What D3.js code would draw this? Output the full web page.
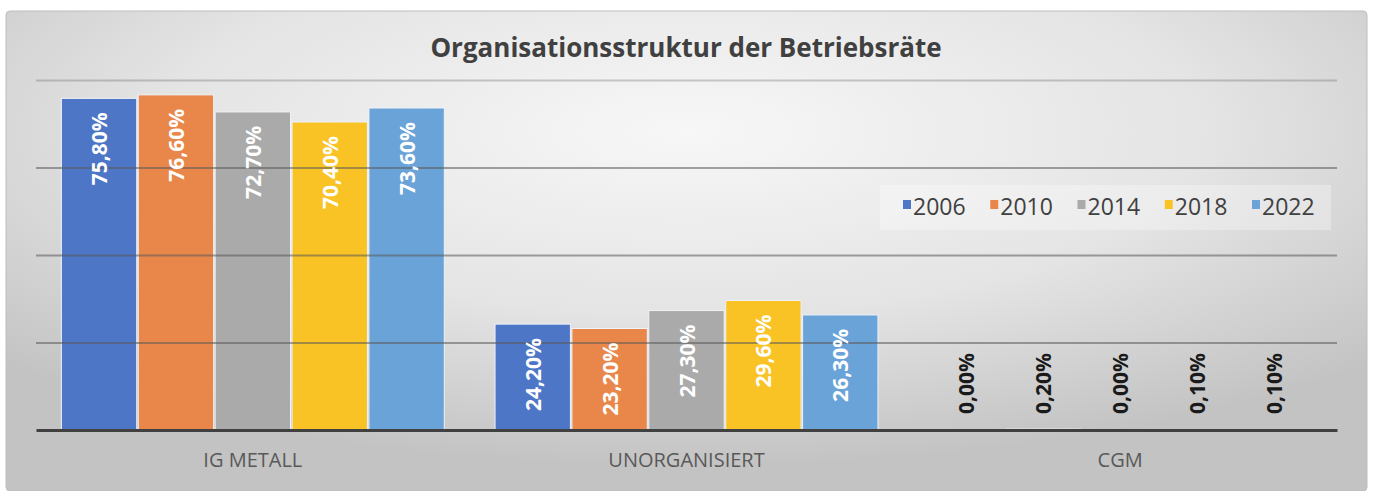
<!DOCTYPE html>
<html>
<head>
<meta charset="utf-8">
<script src="https://cdn.jsdelivr.net/npm/d3@7"></script>
<style>
  body { margin: 0; background: #fff; }
  svg { display: block; font-family: "Open Sans", "Noto Sans", sans-serif; }
</style>
</head>
<body>
<div id="chart-area"></div>
<script>
/*
*    Organisationsstruktur der Betriebsräte - grouped bar chart
*/

var categories = ["IG METALL", "UNORGANISIERT", "CGM"];
var years = ["2006", "2010", "2014", "2018", "2022"];
var values2006 = [75.8, 24.2, 0.0];
var values2010 = [76.6, 23.2, 0.2];
var values2014 = [72.7, 27.3, 0.0];
var values2018 = [70.4, 29.6, 0.1];
var values2022 = [73.6, 26.3, 0.1];
var gridTicks = [20, 40, 60, 80];
var colors = ["#4d76c6", "#e9874a", "#aaaaaa", "#f9c325", "#6aa3d8"];

var series = [values2006, values2010, values2014, values2018, values2022];

var W = 1373, H = 491;

var svg = d3.select("#chart-area").append("svg")
    .attr("width", W)
    .attr("height", H);

// background gradient
var defs = svg.append("defs");
var grad = defs.append("radialGradient")
    .attr("id", "bg")
    .attr("cx", "50%").attr("cy", "25%")
    .attr("r", "70%");
grad.append("stop").attr("offset", "0%").attr("stop-color", "#f7f7f7");
grad.append("stop").attr("offset", "55%").attr("stop-color", "#e4e4e4");
grad.append("stop").attr("offset", "100%").attr("stop-color", "#c3c3c3");

svg.append("rect")
    .attr("x", 6).attr("y", 11)
    .attr("width", 1361).attr("height", 480)
    .attr("rx", 4)
    .attr("fill", "url(#bg)")
    .attr("stroke", "#bdbdbd")
    .attr("stroke-width", 1);

// title
svg.append("text")
    .attr("x", 686)
    .attr("y", 57)
    .attr("text-anchor", "middle")
    .attr("font-size", 26)
    .attr("font-weight", "bold")
    .attr("fill", "#404040")
    .text("Organisationsstruktur der Betriebsräte");

// scales
var x0 = d3.scaleBand()
    .domain(categories)
    .range([36, 1337])
    .paddingInner(0.117)
    .paddingOuter(0.0585);

var x1 = d3.scaleBand()
    .domain(years)
    .range([0, x0.bandwidth()])
    .paddingInner(0.02);

var y = d3.scaleLinear()
    .domain([0, 80])
    .range([430, 80]);

var de = d3.formatLocale({ decimal: ",", thousands: ".", grouping: [3], currency: ["", " €"] });
var fmt = de.format(".2f");

// bars
var data = [];
categories.forEach(function (c, ci) {
    years.forEach(function (yr, si) {
        data.push({ cat: c, year: yr, si: si, value: series[si][ci] });
    });
});

var bars = svg.append("g").selectAll("rect").data(data);
bars.enter().append("rect")
    .attr("x", function (d) { return x0(d.cat) + x1(d.year); })
    .attr("y", function (d) { return y(d.value); })
    .attr("width", x1.bandwidth())
    .attr("height", function (d) { return y(0) - y(d.value); })
    .attr("fill", function (d) { return colors[d.si]; })
    .attr("stroke", function (d) { return d.value > 0 ? "#f0f2f8" : "none"; })
    .attr("stroke-width", 1);

// gridlines (drawn over bars, like the original)
var grid = svg.append("g")
    .attr("transform", "translate(36,0)")
    .call(d3.axisLeft(y).tickValues(gridTicks).tickSize(-1301).tickFormat(""));
grid.select(".domain").remove();
grid.selectAll("line")
    .attr("stroke", "#5a5a5a")
    .attr("stroke-opacity", function (d) { return d === 80 ? 0.3 : 0.55; })
    .attr("stroke-width", 2);

// baseline + category labels
var xAxis = svg.append("g")
    .attr("transform", "translate(0," + y(0) + ")")
    .call(d3.axisBottom(x0).tickSize(0).tickPadding(23));
xAxis.select(".domain")
    .attr("stroke", "#404040")
    .attr("stroke-width", 3);
xAxis.selectAll("text")
    .attr("font-family", "\"Open Sans\", sans-serif")
    .attr("font-size", 20)
    .attr("fill", "#595959");

// data labels
svg.append("g").selectAll("text").data(data)
    .enter().append("text")
    .attr("transform", function (d) {
        var cx = x0(d.cat) + x1(d.year) + x1.bandwidth() / 2;
        var big = d.value > 10;
        var py = big ? y(d.value) + 14 : y(0) - 16;
        return "translate(" + (cx + 8) + "," + py + ") rotate(-90)";
    })
    .attr("text-anchor", function (d) { return d.value > 10 ? "end" : "start"; })
    .attr("font-size", 21)
    .attr("font-weight", "bold")
    .attr("fill", function (d) { return d.value > 10 ? "#ffffff" : "#1a1a1a"; })
    .text(function (d) { return fmt(d.value) + "%"; });

// legend
var legend = svg.append("g").attr("transform", "translate(880,185)");
legend.append("rect")
    .attr("width", 451).attr("height", 45)
    .attr("fill", "#ffffff")
    .attr("fill-opacity", 0.3);

var lx = d3.scalePoint().domain(years).range([23, 372]);
var items = legend.selectAll("g.item").data(years)
    .enter().append("g")
    .attr("class", "item")
    .attr("transform", function (d) { return "translate(" + lx(d) + ",0)"; });
items.append("rect")
    .attr("y", 15).attr("width", 8).attr("height", 9)
    .attr("fill", function (d, i) { return colors[i]; });
items.append("text")
    .attr("x", 10).attr("y", 30)
    .attr("font-size", 23)
    .attr("fill", "#404040")
    .text(function (d) { return d; });
</script>
</body>
</html>
